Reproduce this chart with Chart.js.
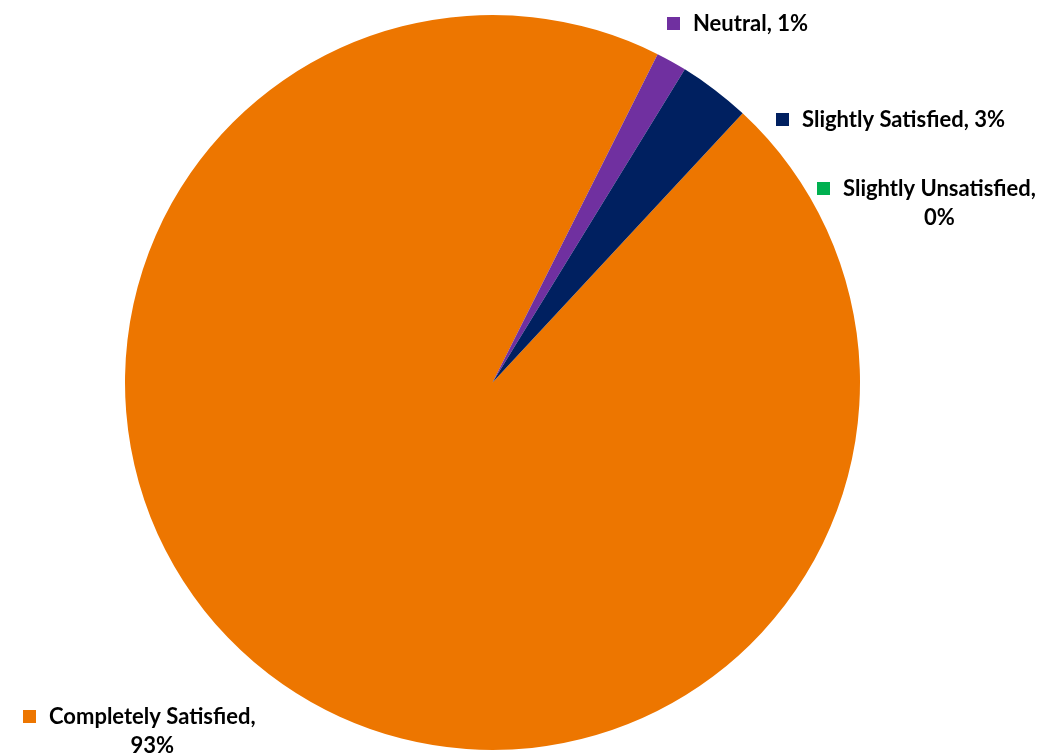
<!DOCTYPE html>
<html>
<head>
<meta charset="utf-8">
<script src="https://cdn.jsdelivr.net/npm/chart.js@4/dist/chart.umd.min.js"></script>
<style>
  html, body { margin: 0; padding: 0; background: #fff; }
  #wrap { width: 1043px; height: 755px; }
</style>
</head>
<body>
<div id="wrap"><canvas id="myChart"></canvas></div>
<script>
// data
var categories = ['Completely Satisfied', 'Neutral', 'Slightly Satisfied', 'Slightly Unsatisfied'];
var shares = [95.5, 1.35, 3.15, 0];
var pctLabels = ['93%', '1%', '3%', '0%'];
var colors = ['rgb(237,118,0)', 'rgb(112,48,160)', 'rgb(0,32,96)', 'rgb(0,176,80)'];

// where each data label sits (square top-left, text lines)
var labelSpots = [
  { x: 23, y: 710, lines: ['Completely Satisfied,', pctLabels[0]] },
  { x: 667, y: 17, lines: ['Neutral, ' + pctLabels[1]] },
  { x: 776, y: 113, lines: ['Slightly Satisfied, ' + pctLabels[2]] },
  { x: 817, y: 182, lines: ['Slightly Unsatisfied,', pctLabels[3]] }
];

var labelPlugin = {
  id: 'sliceLabels',
  afterDraw: function (chart) {
    var c = chart.ctx;
    c.save();
    c.font = 'bold 22px Lato, "Open Sans", sans-serif';
    c.textBaseline = 'middle';
    labelSpots.forEach(function (s, i) {
      c.fillStyle = colors[i];
      c.fillRect(s.x, s.y, 13, 13);
      c.fillStyle = '#000';
      var tx = s.x + 26;
      var w = c.measureText(s.lines[0]).width;
      c.textAlign = 'left';
      c.fillText(s.lines[0], tx, s.y + 7);
      if (s.lines[1]) {
        c.textAlign = 'center';
        c.fillText(s.lines[1], tx + w / 2, s.y + 36);
      }
    });
    c.restore();
  }
};

var ctx = document.getElementById('myChart').getContext('2d');
var myChart = new Chart(ctx, {
  type: 'pie',
  data: {
    labels: categories,
    datasets: [{
      data: shares,
      backgroundColor: colors,
      borderWidth: 0
    }]
  },
  options: {
    responsive: true,
    maintainAspectRatio: false,
    animation: false,
    rotation: 42.9,
    layout: { padding: { left: 125, right: 183, top: 15, bottom: 5 } },
    plugins: {
      legend: { display: false },
      tooltip: { enabled: false }
    }
  },
  plugins: [labelPlugin]
});
</script>
</body>
</html>
